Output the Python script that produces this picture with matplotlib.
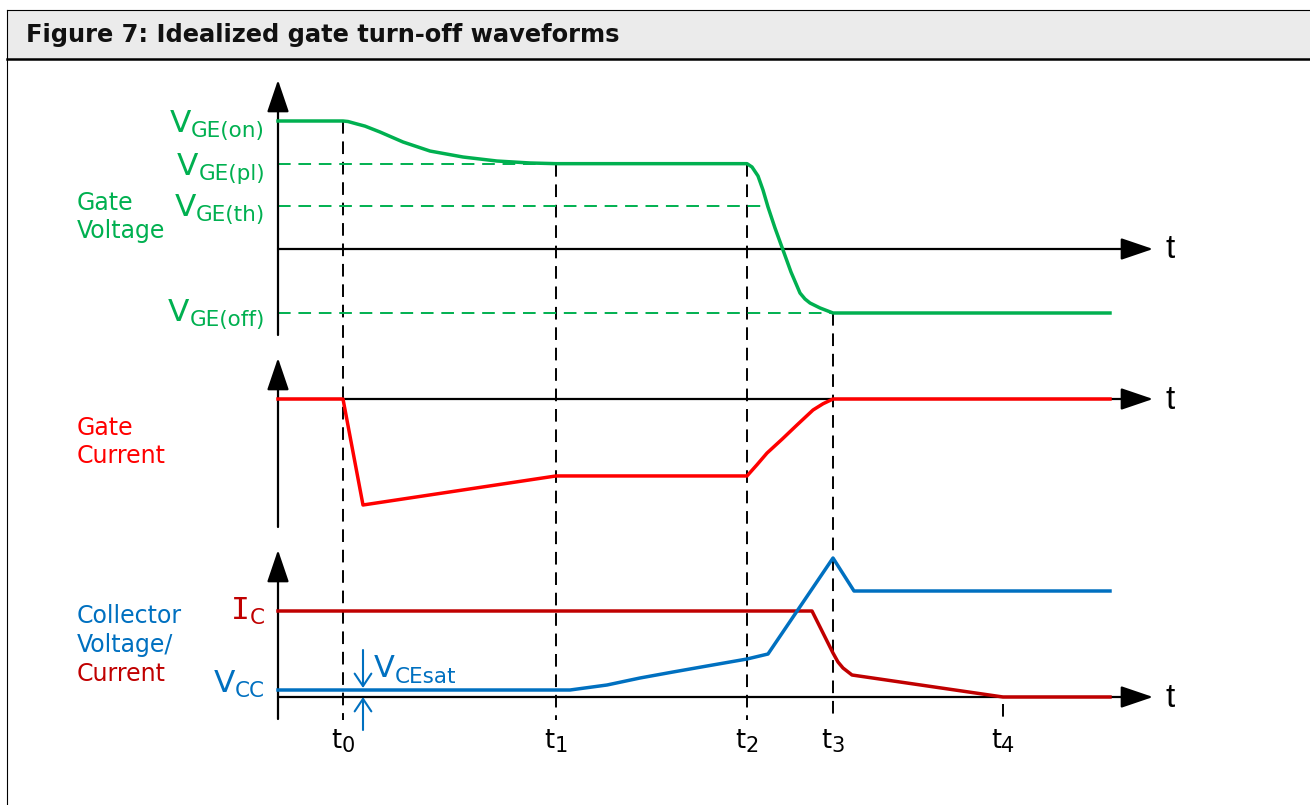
import matplotlib.pyplot as plt
from matplotlib.patches import Rectangle
from matplotlib.transforms import offset_copy, blended_transform_factory

# time marks (time origin at the vertical axes, arbitrary units)
t_marks = [0.65, 2.78, 4.69, 5.55, 7.25]
t_names = ['0', '1', '2', '3', '4']
t_end = 8.32

# gate voltage (V)
vge_names = ['GE(on)', 'GE(pl)', 'GE(th)', 'GE(off)']
vge_levels = [15.0, 10.0, 5.0, -7.5]
vge_t = [0.0, 0.65, 0.70, 0.79, 0.87, 1.02, 1.25, 1.52, 1.85, 2.19, 2.52, 2.78,
         4.69, 4.74, 4.80, 4.85, 4.90, 4.97, 5.05, 5.13, 5.22, 5.27, 5.32, 5.42, 5.55, 8.32]
vge_v = [15.0, 15.0, 14.94, 14.65, 14.4, 13.71, 12.54, 11.48, 10.78, 10.31, 10.08, 10.0,
         10.0, 9.61, 8.56, 6.91, 4.92, 2.46, -0.12, -2.70, -5.16, -5.86, -6.33, -6.91, -7.5, -7.5]

# gate current (normalised)
ig_t = [0.0, 0.65, 0.85, 2.78, 4.69, 4.79, 4.89, 5.04, 5.19, 5.35, 5.45, 5.55, 8.32]
ig_v = [0.0, 0.0, -1.0, -0.726, -0.726, -0.62, -0.51, -0.38, -0.245, -0.104, -0.045, 0.0, 0.0]

# collector voltage / current (normalised)
vce_t = [0.0, 2.92, 3.29, 3.62, 3.95, 4.29, 4.69, 4.90, 5.55, 5.76, 8.32]
vce_v = [0.07, 0.07, 0.12, 0.19, 0.25, 0.31, 0.38, 0.43, 1.39, 1.06, 1.06]
ic_t = [0.0, 5.34, 5.55, 5.60, 5.65, 5.74, 7.25, 8.32]
ic_v = [0.86, 0.86, 0.44, 0.35, 0.29, 0.22, 0.0, 0.0]
ic_level = 0.86
vcesat = 0.07

GREEN = '#00B050'
RED = '#FF0000'
DRED = '#C00000'
BLUE = '#0070C0'

W, H = 1310, 805
X0, PXT = 278, 100.0   # pixel of time origin, pixels per time unit

fig = plt.figure(figsize=(W / 100, H / 100), dpi=100)
ax0 = fig.add_axes([0, 0, 1, 1])
ax0.set_xlim(0, W)
ax0.set_ylim(H, 0)
ax0.axis('off')

#frame and header
ax0.add_patch(Rectangle((7, 10), W - 7, 49, fc='#EBEBEB', ec='none'))
ax0.plot([7, W], [10, 10], color='k', lw=0.8)
ax0.plot([7, W], [59, 59], color='k', lw=1.8)
ax0.plot([7, 7], [10, H], color='k', lw=0.8)
ax0.text(26, 35, 'Figure 7: Idealized gate turn-off waveforms', fontsize=17.4,
         fontweight='bold', ha='left', va='center', color='#111111')


def panel(base, ppu):
    ax = fig.add_axes([0, 0, 1, 1], frameon=False)
    ax.set_xlim(-X0 / PXT, (W - X0) / PXT)
    ax.set_ylim((base - H) / ppu, base / ppu)
    ax.axis('off')
    ax.base, ax.ppu = base, ppu
    return ax


def to_px(ax, v):
    return ax.base - v * ax.ppu


def to_v(ax, px):
    return (ax.base - px) / ax.ppu


def axes_arrows(ax, top_px, bot_px):
    ap = dict(arrowstyle='-|>,head_length=2.0,head_width=0.68', mutation_scale=10,
              lw=1.6, color='k', shrinkA=0, shrinkB=0)
    ax.annotate('', xy=(0, to_v(ax, top_px)), xytext=(0, to_v(ax, bot_px)), arrowprops=ap)
    ax.annotate('', xy=((1153 - X0) / PXT, 0), xytext=(0, 0), arrowprops=ap)
    ax.text((1166 - X0) / PXT, to_v(ax, ax.base + 1), 't', fontsize=24,
            family='Liberation Sans', ha='left', va='center')


def sub_label(ax, x, y, main, sub, color, ha='right', dy_main=0, dy_sub=0,
              fs_main=22.5, fs_sub=15.5, family='DejaVu Sans'):
    r = fig.canvas.get_renderer()
    tm = ax.text(x, y, main, fontsize=fs_main, color=color, ha='left', va='baseline',
                 family=family)
    ts = ax.text(x, y, sub, fontsize=fs_sub, color=color, ha='left', va='baseline')
    wm = tm.get_window_extent(r).width
    ws = ts.get_window_extent(r).width
    if ha == 'right':
        xm = -(wm + ws)
    elif ha == 'center':
        xm = -(wm + ws) / 2
    else:
        xm = 0
    tm.set_transform(offset_copy(ax.transData, fig=fig, x=xm, y=-dy_main, units='dots'))
    ts.set_transform(offset_copy(ax.transData, fig=fig, x=xm + wm, y=-dy_sub, units='dots'))


ax1 = panel(249, 128 / 15.0)
ax2 = panel(399, 106.0)
ax3 = panel(697, 100.0)

axes_arrows(ax1, 80, 335)
axes_arrows(ax2, 358, 527)
axes_arrows(ax3, 550, 719)

# vertical dashed time marks
tr = blended_transform_factory(ax1.transData, ax0.transData)
t_start = [to_px(ax1, vge_levels[0]), to_px(ax1, vge_levels[1]), to_px(ax1, vge_levels[1]),
           to_px(ax1, vge_levels[3]), ax3.base + 7]
for t, s in zip(t_marks, t_start):
    ax1.plot([t, t], [s, 720], transform=tr, color='k', lw=1.4, dashes=(6.5, 4))

# gate voltage panel
ax1.plot([0, t_marks[1]], [vge_levels[1]] * 2, color=GREEN, lw=1.4, dashes=(6.5, 4))
ax1.plot([0, 4.90], [vge_levels[2]] * 2, color=GREEN, lw=1.4, dashes=(6.5, 4))
ax1.plot([0, t_marks[3]], [vge_levels[3]] * 2, color=GREEN, lw=1.4, dashes=(6.5, 4))
ax1.plot(vge_t, vge_v, color=GREEN, lw=2.5, zorder=5, solid_joinstyle='round')
for name, lev, d in zip(vge_names, vge_levels, [11, 11, 10, 8]):
    sub_label(ax1, (265 - X0) / PXT, lev, 'V', name, GREEN, dy_main=d, dy_sub=d + 5)
ax0.text(77, 217, 'Gate\nVoltage', fontsize=17, color=GREEN, ha='left', va='center',
         linespacing=1.2)

# gate current panel
ax2.plot(ig_t, ig_v, color=RED, lw=2.5, zorder=5, solid_joinstyle='round')
ax0.text(77, 442, 'Gate\nCurrent', fontsize=17, color=RED, ha='left', va='center',
         linespacing=1.2)

# collector panel
ax3.plot(ic_t, ic_v, color=DRED, lw=2.5, zorder=5, solid_joinstyle='round')
ax3.plot(vce_t, vce_v, color=BLUE, lw=2.5, zorder=6, solid_joinstyle='round')
sub_label(ax3, (265 - X0) / PXT, ic_level, 'I', 'C', DRED, dy_main=8, dy_sub=13,
          family='DejaVu Sans Mono')
sub_label(ax3, (265 - X0) / PXT, vcesat, 'V', 'CC', BLUE, dy_main=2, dy_sub=7)
ax0.text(77, 616, 'Collector', fontsize=17, color=BLUE, ha='left', va='center')
ax0.text(77, 645, 'Voltage/', fontsize=17, color=BLUE, ha='left', va='center')
ax0.text(77, 674, 'Current', fontsize=17, color=DRED, ha='left', va='center')

# VCEsat annotation
xa = t_marks[0] + 0.2
ap = dict(arrowstyle='->,head_length=0.9,head_width=0.6', mutation_scale=10, lw=1.5,
          color=BLUE, shrinkA=0, shrinkB=0)
ax3.annotate('', xy=(xa, vcesat + 0.02), xytext=(xa, 0.47), arrowprops=ap)
ax3.annotate('', xy=(xa, 0.0), xytext=(xa, -0.33), arrowprops=ap)
sub_label(ax3, (374 - X0) / PXT, vcesat, 'V', 'CEsat', BLUE, ha='left', dy_main=-13,
          dy_sub=-7, fs_main=22, fs_sub=15.5)

# time labels
for t, n in zip(t_marks, t_names):
    sub_label(ax3, t, to_v(ax3, 748), 't', n, 'k', ha='center', fs_main=18.5,
              fs_sub=15, dy_main=0, dy_sub=4)

fig.savefig('out.png', dpi=100)
